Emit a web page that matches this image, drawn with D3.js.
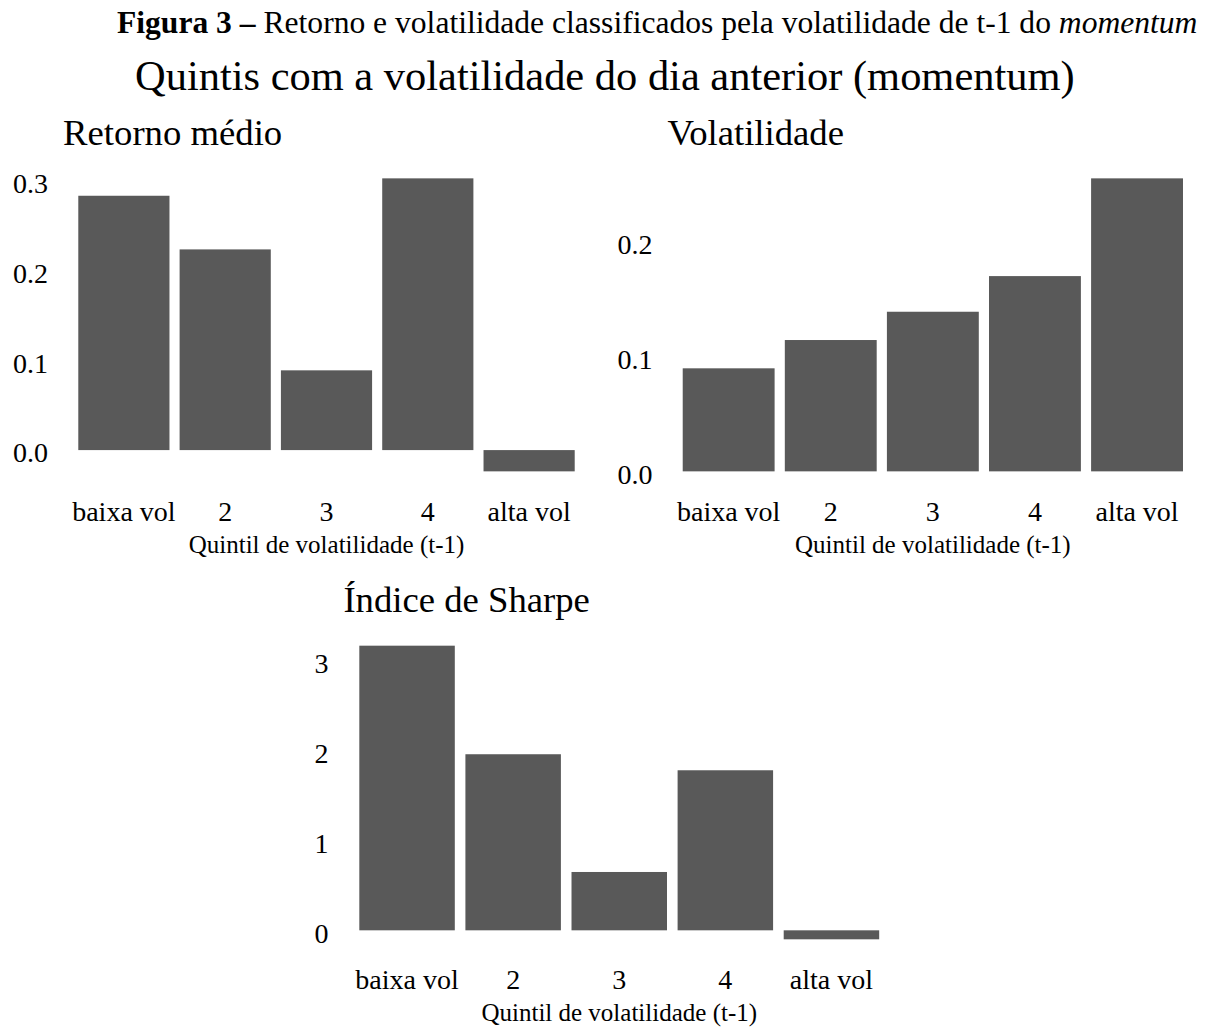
<!DOCTYPE html>
<html>
<head>
<meta charset="utf-8">
<script src="https://cdn.jsdelivr.net/npm/d3@7"></script>
<style>
  html, body { margin: 0; padding: 0; background: #ffffff; }
  svg { display: block; }
  text { font-family: "Liberation Serif", "Times New Roman", Times, serif; fill: #000; }
</style>
</head>
<body>
<svg id="chart" width="1213" height="1027"></svg>
<script>
// ---- data ----
const categories = ["baixa vol", "2", "3", "4", "alta vol"];
const retornoMedio = [0.2835, 0.2237, 0.0889, 0.3029, -0.0237];
const volatilidade = [0.0896, 0.1142, 0.1388, 0.1698, 0.2548];
const sharpe = [3.162, 1.956, 0.648, 1.778, -0.100];
const ticksRetorno = [0, 0.1, 0.2, 0.3];
const ticksVol = [0, 0.1, 0.2];
const ticksSharpe = [0, 1, 2, 3];

const captionBold = "Figura 3 –";
const captionText = " Retorno e volatilidade classificados pela volatilidade de t-1 do ";
const captionItalic = "momentum";
const mainTitle = "Quintis com a volatilidade do dia anterior (momentum)";
const xTitle = "Quintil de volatilidade (t-1)";

const svg = d3.select("#chart");
const barColor = "#595959";

function fitWidth(sel, x0, x1) {
  const w = sel.node().getComputedTextLength();
  const fs = parseFloat(sel.attr("font-size"));
  sel.attr("font-size", fs * (x1 - x0) / w);
}

// caption
const cap = svg.append("text").attr("x", 117).attr("y", 33).attr("font-size", 30);
cap.append("tspan").attr("font-weight", "bold").text(captionBold);
cap.append("tspan").text(captionText);
cap.append("tspan").attr("font-style", "italic").text(captionItalic);
fitWidth(cap, 117, 1198);

// main title
const mt = svg.append("text").attr("x", 135).attr("y", 90).attr("font-size", 42).text(mainTitle);
fitWidth(mt, 135, 1075);

function panel(cfg) {
  const g = svg.append("g");
  const x = d3.scaleBand().domain(categories)
    .range([cfg.left, cfg.right]).paddingInner(0.1).paddingOuter(0.15);
  const lo = Math.min(0, d3.min(cfg.values));
  const hi = Math.max(0, d3.max(cfg.values));
  const ex = (hi - lo) * 0.05;
  const y = d3.scaleLinear().domain([lo - ex, hi + ex]).range([cfg.bottom, cfg.top]);

  // title
  g.append("text").attr("x", cfg.left).attr("y", cfg.top - 19)
    .attr("font-size", 36.7).text(cfg.title);

  // bars
  g.selectAll("rect.bar").data(cfg.values).join("rect")
    .attr("class", "bar")
    .attr("x", (d, i) => x(categories[i]))
    .attr("width", x.bandwidth())
    .attr("y", d => y(Math.max(0, d)))
    .attr("height", d => Math.abs(y(d) - y(0)))
    .attr("fill", barColor);

  // y axis (labels only)
  const yAxis = d3.axisLeft(y).tickValues(cfg.ticks).tickFormat(cfg.fmt)
    .tickSize(0).tickPadding(15);
  const ya = g.append("g").attr("transform", `translate(${cfg.left},0)`).call(yAxis);
  ya.select(".domain").remove();
  ya.selectAll("text").attr("font-size", 28).attr("font-family", null)
    .attr("fill", "#000").attr("dy", "0.42em");

  // x axis (labels only)
  const xAxis = d3.axisBottom(x).tickSize(0).tickPadding(0);
  const xa = g.append("g").attr("transform", `translate(0,${cfg.bottom})`).call(xAxis);
  xa.select(".domain").remove();
  xa.selectAll("text").attr("font-size", 28).attr("font-family", null)
    .attr("fill", "#000").attr("dy", null).attr("y", 35);

  // x title
  g.append("text").attr("x", (cfg.left + cfg.right) / 2).attr("y", cfg.bottom + 67)
    .attr("text-anchor", "middle").attr("font-size", 25).text(xTitle);
}

panel({ title: "Retorno médio", values: retornoMedio, ticks: ticksRetorno,
  fmt: d3.format(".1f"), left: 63.1, right: 589.9, top: 163.7, bottom: 486 });
panel({ title: "Volatilidade", values: volatilidade, ticks: ticksVol,
  fmt: d3.format(".1f"), left: 667.4, right: 1198.3, top: 163.7, bottom: 486 });
panel({ title: "Índice de Sharpe", values: sharpe, ticks: ticksSharpe,
  fmt: d3.format("d"), left: 343.4, right: 895.1, top: 631, bottom: 954 });
</script>
</body>
</html>
